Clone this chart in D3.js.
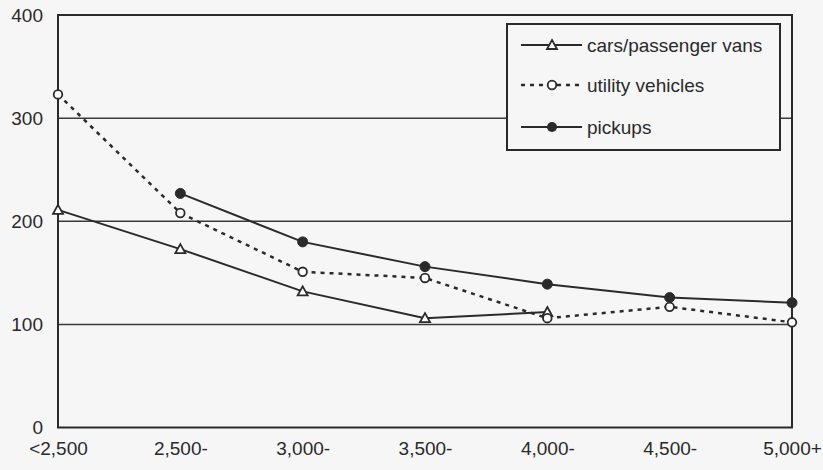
<!DOCTYPE html>
<html><head><meta charset="utf-8">
<script src="https://cdn.jsdelivr.net/npm/d3@7"></script>
<style>
html,body{margin:0;padding:0;background:#f6f6f6;}
svg{display:block;}
text{font-family:"Liberation Sans",Arial,sans-serif;fill:#2a2a2a;}
</style></head>
<body>
<svg id="chart" width="823" height="470"></svg>
<script>
const categories = ["<2,500","2,500-","3,000-","3,500-","4,000-","4,500-","5,000+"];
const yTicks = [0,100,200,300,400];
const cars = [211,173,132,106,112,null,null];
const utility = [323,208,151,145,106,117,102];
const pickups = [null,227,180,156,139,126,121];
const seriesNames = ["cars/passenger vans","utility vehicles","pickups"];

const ink = "#2a2a2a";
const svg = d3.select("#chart");
const m = {left:58, right:792, top:15, bottom:427.5};

const x = d3.scalePoint().domain(categories).range([m.left, m.right]);
const y = d3.scaleLinear().domain([0,400]).range([m.bottom, m.top]);

// gridlines
svg.append("g").selectAll("line").data(yTicks.filter(d=>d>0 && d<400)).join("line")
  .attr("x1",m.left).attr("x2",m.right)
  .attr("y1",d=>y(d)).attr("y2",d=>y(d))
  .attr("stroke","#3a3a3a").attr("stroke-width",1.5);

// frame
svg.append("rect").attr("x",m.left).attr("y",m.top)
  .attr("width",m.right-m.left).attr("height",m.bottom-m.top)
  .attr("fill","none").attr("stroke",ink).attr("stroke-width",2);

// y axis
const yAxis = d3.axisLeft(y).tickValues(yTicks).tickSize(0).tickPadding(15);
const gy = svg.append("g").attr("transform",`translate(${m.left},0)`).call(yAxis);
gy.select(".domain").remove();
gy.selectAll("text").style("font-size","19px").attr("fill",ink);

// x axis
const xAxis = d3.axisBottom(x).tickSize(0).tickPadding(14);
const gx = svg.append("g").attr("transform",`translate(0,${m.bottom})`).call(xAxis);
gx.select(".domain").remove();
gx.selectAll("text").style("font-size","19px").attr("fill",ink);

const line = d3.line().defined(d=>d.v!=null).x(d=>x(d.c)).y(d=>y(d.v));
function pts(arr){return categories.map((c,i)=>({c:c,v:arr[i]}));}

function triPath(cx,cy){const s=5;return `M${cx},${cy-s}L${cx+s},${cy+s*0.8}L${cx-s},${cy+s*0.8}Z`;}

// series lines
svg.append("path").datum(pts(cars)).attr("d",line).attr("fill","none")
  .attr("stroke",ink).attr("stroke-width",2);
svg.append("path").datum(pts(utility)).attr("d",line).attr("fill","none")
  .attr("stroke",ink).attr("stroke-width",2.5).attr("stroke-dasharray","4,5");
svg.append("path").datum(pts(pickups)).attr("d",line).attr("fill","none")
  .attr("stroke",ink).attr("stroke-width",2);

// markers
svg.append("g").selectAll("path").data(pts(cars).filter(d=>d.v!=null)).join("path")
  .attr("d",d=>triPath(x(d.c),y(d.v))).attr("fill","#fff").attr("stroke",ink).attr("stroke-width",1.8);
svg.append("g").selectAll("circle").data(pts(utility).filter(d=>d.v!=null)).join("circle")
  .attr("cx",d=>x(d.c)).attr("cy",d=>y(d.v)).attr("r",4.3)
  .attr("fill","#fff").attr("stroke",ink).attr("stroke-width",1.8);
svg.append("g").selectAll("circle").data(pts(pickups).filter(d=>d.v!=null)).join("circle")
  .attr("cx",d=>x(d.c)).attr("cy",d=>y(d.v)).attr("r",5)
  .attr("fill",ink).attr("stroke",ink).attr("stroke-width",1);

// legend
const lg = svg.append("g");
lg.append("rect").attr("x",507).attr("y",24).attr("width",273).attr("height",126)
  .attr("fill","#f6f6f6").attr("stroke",ink).attr("stroke-width",2);
const rows = [45,85,127];
rows.forEach((ry,i)=>{
  const l = lg.append("line").attr("x1",521).attr("x2",582).attr("y1",ry).attr("y2",ry)
    .attr("stroke",ink).attr("stroke-width",i===1?2.5:2);
  if(i===1) l.attr("stroke-dasharray","4,5");
  if(i===0) lg.append("path").attr("d",triPath(552,ry)).attr("fill","#fff").attr("stroke",ink).attr("stroke-width",1.8);
  if(i===1) lg.append("circle").attr("cx",552).attr("cy",ry).attr("r",4.3).attr("fill","#fff").attr("stroke",ink).attr("stroke-width",1.8);
  if(i===2) lg.append("circle").attr("cx",552).attr("cy",ry).attr("r",5).attr("fill",ink);
  lg.append("text").attr("x",587).attr("y",ry).attr("dy","0.35em")
    .style("font-size","19px").text(seriesNames[i]);
});
</script>
</body></html>
